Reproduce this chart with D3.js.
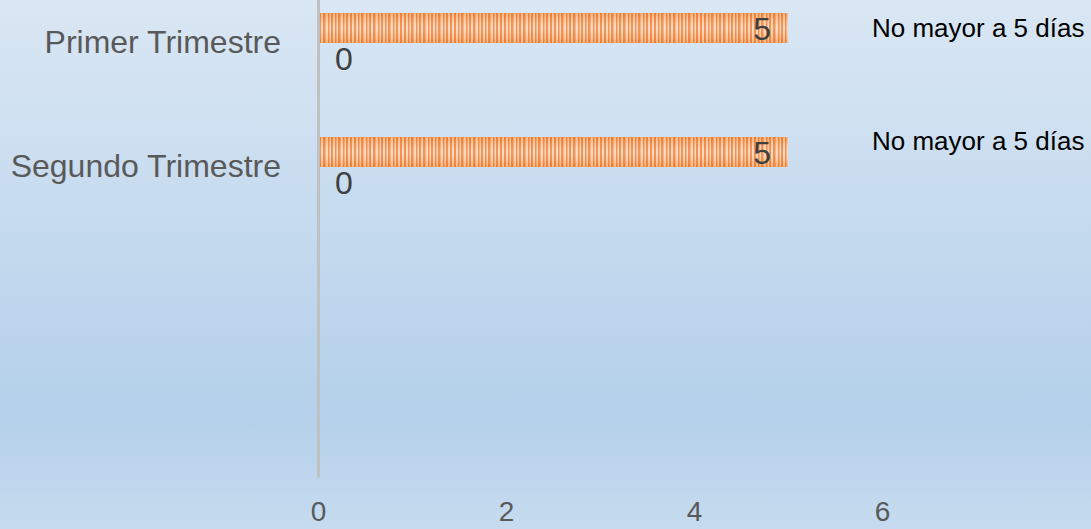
<!DOCTYPE html>
<html>
<head>
<meta charset="utf-8">
<script src="https://cdn.jsdelivr.net/npm/d3@7"></script>
<style>
  html, body { margin: 0; padding: 0; overflow: hidden; }
  text { font-family: "Liberation Sans", Arial, sans-serif; }
</style>
</head>
<body>
<script>
var categories = ["Primer Trimestre", "Segundo Trimestre", "", " "];
var seriesNames = ["No mayor a 5 días", "No mayor a 5 días"];
var serieA = [5, 5, null, null];
var serieB = [0, 0, null, null];
var xTicks = [0, 2, 4, 6];

var w = 1091,
    h = 529;

var svg = d3.select("body").append("svg")
    .attr("width", w)
    .attr("height", h);

var defs = svg.append("defs");

// fondo degradado
var bg = defs.append("linearGradient").attr("id", "bg")
    .attr("x1", 0).attr("y1", 0).attr("x2", 0).attr("y2", 1);
bg.append("stop").attr("offset", "0").attr("stop-color", "#dae7f4");
bg.append("stop").attr("offset", "0.78").attr("stop-color", "#b4d0ea");
bg.append("stop").attr("offset", "1").attr("stop-color", "#c6dbef");

// rayas verticales de las barras
var pat = defs.append("pattern").attr("id", "stripes")
    .attr("patternUnits", "userSpaceOnUse")
    .attr("width", 50).attr("height", 60);
pat.append("rect").attr("width", 50).attr("height", 60).attr("fill", "#fbcfae");
[[0, 2], [4, 2], [8, 1.5], [11, 2.5], [16, 1.5], [19, 2], [23, 2.5], [28, 1.5],
 [31, 2], [35, 1.5], [38, 2.5], [43, 1.5], [46, 2]].forEach(function (s) {
    pat.append("rect").attr("x", s[0]).attr("width", s[1]).attr("height", 60)
        .attr("fill", "#ec7426");
});

var shine = defs.append("linearGradient").attr("id", "shine")
    .attr("x1", 0).attr("y1", 0).attr("x2", 0).attr("y2", 1);
shine.append("stop").attr("offset", "0").attr("stop-color", "#f08a3e").attr("stop-opacity", 0.4);
shine.append("stop").attr("offset", "0.5").attr("stop-color", "#ffffff").attr("stop-opacity", 0.25);
shine.append("stop").attr("offset", "1").attr("stop-color", "#f08a3e").attr("stop-opacity", 0.4);

svg.append("rect").attr("width", w).attr("height", h).attr("fill", "url(#bg)");

var x = d3.scaleLinear().domain([0, 6]).range([318, 318 + 6 * 94]);

var y = d3.scaleBand()
    .domain(d3.range(categories.length))
    .range([477 - categories.length * 124, 477]);

var sub = d3.scaleBand().domain([0, 1]).range([y.bandwidth() / 2 - 30, y.bandwidth() / 2 + 30]);

// barras
var bars = svg.append("g");
serieA.forEach(function (v, i) {
    if (v === null) return;
    var top = y(i) + sub(0);
    bars.append("rect")
        .attr("x", x(0)).attr("y", top)
        .attr("width", x(v) - x(0)).attr("height", sub.bandwidth())
        .attr("fill", "url(#stripes)");
    bars.append("rect")
        .attr("x", x(0)).attr("y", top)
        .attr("width", x(v) - x(0)).attr("height", sub.bandwidth())
        .attr("fill", "url(#shine)");
    bars.append("text")
        .attr("x", x(v) - 17).attr("y", top + sub.bandwidth() / 2)
        .attr("dy", "0.36em").attr("text-anchor", "end")
        .attr("font-size", 32).attr("fill", "#404040")
        .text(v);
});
serieB.forEach(function (v, i) {
    if (v === null) return;
    var top = y(i) + sub(1);
    bars.append("rect")
        .attr("x", x(0)).attr("y", top)
        .attr("width", x(v) - x(0)).attr("height", sub.bandwidth())
        .attr("fill", "url(#stripes)");
    bars.append("text")
        .attr("x", x(v) + 17).attr("y", top + sub.bandwidth() / 2)
        .attr("dy", "0.36em").attr("text-anchor", "start")
        .attr("font-size", 32).attr("fill", "#404040")
        .text(v);
});

// eje vertical
var yAxis = svg.append("g")
    .attr("transform", "translate(" + x(0) + ",0)")
    .call(d3.axisLeft(y).tickSize(0).tickPadding(37).tickFormat(function (i) { return categories[i]; }));
yAxis.select(".domain").attr("stroke", "#c0c0c0").attr("stroke-width", 3);
yAxis.selectAll("text").attr("font-size", 32).attr("fill", "#595959")
    .attr("font-family", "Liberation Sans, Arial, sans-serif");

// eje horizontal (solo etiquetas)
var xAxis = svg.append("g")
    .attr("transform", "translate(0,501)")
    .call(d3.axisBottom(x).tickValues(xTicks).tickFormat(d3.format("d")).tickSize(0).tickPadding(0));
xAxis.select(".domain").remove();
xAxis.selectAll("text").attr("font-size", 28).attr("fill", "#595959")
    .attr("dy", "0.71em")
    .attr("font-family", "Liberation Sans, Arial, sans-serif");

// leyenda
var legendY = [28, 141];
svg.append("g").selectAll("text")
    .data(seriesNames)
    .enter().append("text")
    .attr("x", 872)
    .attr("y", function (d, i) { return legendY[i]; })
    .attr("dy", "0.36em")
    .attr("font-size", 26)
    .attr("fill", "#000000")
    .text(function (d) { return d; });
</script>
</body>
</html>
